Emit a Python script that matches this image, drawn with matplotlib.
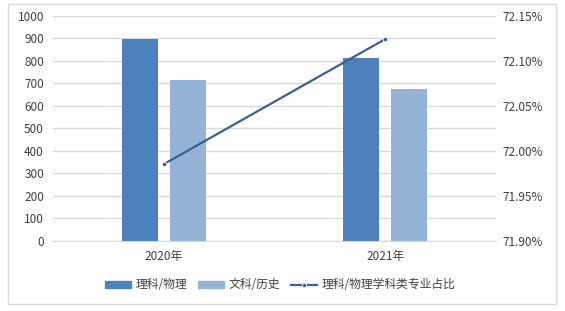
import matplotlib.pyplot as plt
import numpy as np
from matplotlib.lines import Line2D
from matplotlib.patches import Patch, Rectangle

plt.rcParams['font.family'] = ['Noto Sans CJK SC', 'DejaVu Sans']

years = ['2020年', '2021年']
science = [895, 812]
arts = [712, 674]
science_share = [71.985, 72.124]

fig = plt.figure(figsize=(5.65, 3.11), dpi=100)
ax = fig.add_axes([53 / 565, 70.3 / 311, 443 / 565, 225 / 311])

fig.patches.append(Rectangle((8 / 565, 7 / 311), 548 / 565, 300 / 311, transform=fig.transFigure,
                             fill=False, edgecolor='#D9D9D9', lw=1, zorder=0))

x = np.arange(len(years))
w = 0.1625
ax.bar(x - 0.108, science, w, color='#4F81BD', zorder=3, label='理科/物理')
ax.bar(x + 0.108, arts, w, color='#95B3D7', zorder=3, label='文科/历史')
ax.set_xlim(-0.5, 1.5)
ax.set_ylim(0, 1000)
ax.set_yticks(np.arange(0, 1001, 100))
ax.set_xticks(x)
ax.set_xticklabels(years)
ax.grid(axis='y', color='#D9D9D9', lw=1, zorder=0)
ax.tick_params(axis='y', length=0, pad=6.5, labelsize=8.5, colors='#404040')
ax.tick_params(axis='x', length=0, pad=7, labelsize=8.5, colors='#404040')
for s in ['top', 'left', 'right']:
    ax.spines[s].set_visible(False)
ax.spines['bottom'].set_color('#D9D9D9')

ax2 = ax.twinx()
ax2.plot(x, science_share, color='#3B5F96', lw=1.6, marker='o', markersize=3.2,
         markeredgecolor='white', markeredgewidth=0.6, zorder=4)
ax2.set_ylim(71.90, 72.15)
ax2.set_yticks(np.arange(71.90, 72.151, 0.05))
ax2.set_yticklabels([f'{v:.2f}%' for v in np.arange(71.90, 72.151, 0.05)])
ax2.tick_params(axis='y', length=0, pad=4.5, labelsize=8.5, colors='#404040')
for s in ax2.spines.values():
    s.set_visible(False)

handles = [Patch(color='#4F81BD'), Patch(color='#95B3D7'),
           Line2D([], [], color='#3B5F96', lw=1.6, marker='o', markersize=3.2,
                  markeredgecolor='white', markeredgewidth=0.6)]
fig.legend(handles, ['理科/物理', '文科/历史', '理科/物理学科类专业占比'], loc='center',
           bbox_to_anchor=(280 / 565, 1 - 285 / 311), ncol=3, frameon=False, fontsize=8.5,
           handlelength=2.2, handleheight=0.6, handletextpad=0.4, columnspacing=0.9,
           labelcolor='#404040')

fig.savefig('out.png', dpi=100)
